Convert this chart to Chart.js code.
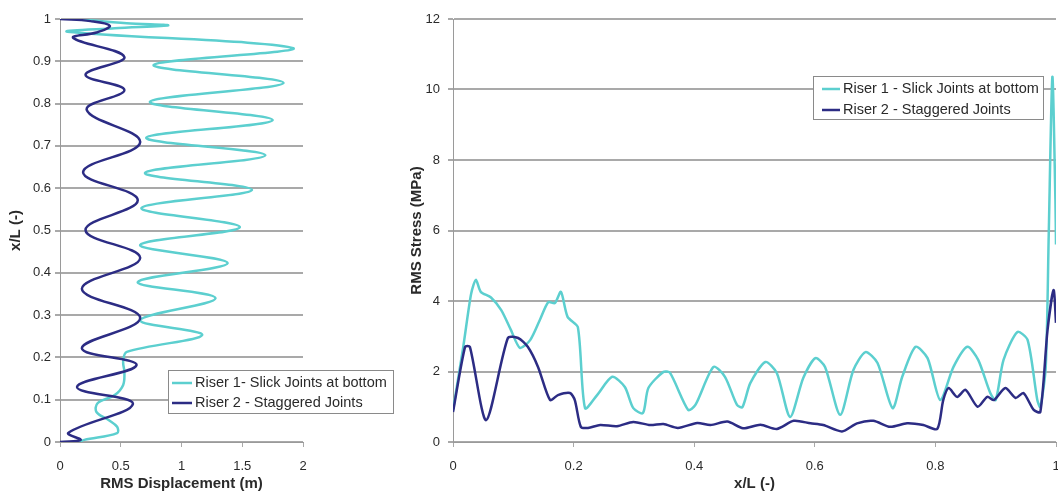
<!DOCTYPE html>
<html>
<head>
<meta charset="utf-8">
<script src="https://cdn.jsdelivr.net/npm/chart.js@4/dist/chart.umd.min.js"></script>
<style>
  body { margin: 0; background: #fff; }
  #wrap { position: relative; width: 1058px; height: 494px; }
  canvas { position: absolute; top: 0; }
  #dispChart { left: 0; }
  #stressChart { left: 400px; }
</style>
</head>
<body>
<div id="wrap">
  <canvas id="dispChart" width="400" height="494"></canvas>
  <canvas id="stressChart" width="658" height="494"></canvas>
</div>
<script>
// ---- left chart: RMS displacement along the riser ----
const dispTicks = [0, 0.5, 1, 1.5, 2];
const posTicks = [0, 0.1, 0.2, 0.3, 0.4, 0.5, 0.6, 0.7, 0.8, 0.9, 1];

const riser1Disp = [0.15, 0.55, 0.89, 0.45, 0.06, 1.92, 0.77, 1.84, 0.74, 1.75, 0.71, 1.69, 0.70, 1.58, 0.67, 1.48,
  0.66, 1.38, 0.64, 1.28, 0.66, 1.17, 0.55, 0.52, 0.53, 0.52, 0.45, 0.31, 0.30, 0.40, 0.47, 0.47, 0.20, 0.16];
const riser1DispPos = [1.0, 0.99, 0.985, 0.978, 0.970, 0.931, 0.891, 0.849, 0.804, 0.761, 0.719, 0.678, 0.636, 0.596, 0.553, 0.508,
  0.466, 0.423, 0.378, 0.340, 0.288, 0.253, 0.213, 0.190, 0.166, 0.135, 0.111, 0.092, 0.071, 0.052, 0.036, 0.021, 0.005, 0.0];

const riser2Disp = [0.00, 0.25, 0.41, 0.30, 0.11, 0.53, 0.21, 0.53, 0.22, 0.66, 0.19, 0.64, 0.21, 0.66, 0.18, 0.66,
  0.18, 0.63, 0.14, 0.60, 0.07, 0.17, 0.00];
const riser2DispPos = [1.0, 0.995, 0.984, 0.968, 0.955, 0.910, 0.868, 0.832, 0.785, 0.709, 0.638, 0.572, 0.501, 0.435, 0.362, 0.293,
  0.222, 0.182, 0.130, 0.090, 0.022, 0.005, 0.0];

// ---- right chart: RMS stress along the riser ----
const ratioTicks = [0, 0.2, 0.4, 0.6, 0.8, 1];
const stressTicks = [0, 2, 4, 6, 8, 10, 12];

const riser1StressPos = [0, 0.017, 0.03, 0.038, 0.046, 0.063, 0.08, 0.096, 0.111, 0.128, 0.144, 0.158, 0.169, 0.179, 0.19, 0.207,
  0.219, 0.239, 0.264, 0.285, 0.299, 0.315, 0.324, 0.349, 0.36, 0.39, 0.402, 0.432, 0.451, 0.471, 0.48, 0.493,
  0.518, 0.537, 0.559, 0.581, 0.601, 0.617, 0.642, 0.664, 0.684, 0.704, 0.729, 0.745, 0.767, 0.787, 0.808,
  0.83, 0.853, 0.871, 0.891, 0.9, 0.913, 0.936, 0.953, 0.969, 0.974, 0.983, 0.988, 0.994, 0.999, 1.0];
const riser1Stress = [0.9, 2.7, 4.2, 4.6, 4.26, 4.1, 3.74, 3.18, 2.67, 2.89, 3.46, 3.97, 3.94, 4.26, 3.55, 3.26,
  0.96, 1.33, 1.85, 1.56, 0.96, 0.82, 1.53, 1.99, 1.96, 0.91, 1.05, 2.13, 1.85, 1.05, 0.99, 1.67,
  2.27, 1.96, 0.71, 1.82, 2.38, 2.13, 0.77, 2.04, 2.55, 2.24, 0.96, 1.85, 2.70, 2.38, 1.19,
  2.13, 2.70, 2.33, 1.39, 1.19, 2.33, 3.12, 2.89, 1.19, 0.99, 2.13, 5.93, 10.36, 6.87, 5.6];

const riser2StressPos = [0, 0.02, 0.028, 0.055, 0.091, 0.108, 0.124, 0.141, 0.161, 0.174, 0.194, 0.202, 0.212, 0.224,
  0.244, 0.272, 0.299, 0.327, 0.349, 0.373, 0.405, 0.427, 0.455, 0.481, 0.51, 0.537, 0.565, 0.593, 0.614, 0.645,
  0.67, 0.697, 0.725, 0.753, 0.78, 0.803, 0.813, 0.822, 0.836, 0.85, 0.87, 0.886, 0.897, 0.916, 0.933, 0.946,
  0.963, 0.974, 0.986, 0.996, 1.0];
const riser2Stress = [0.85, 2.70, 2.70, 0.62, 2.95, 2.95, 2.70, 2.13, 1.19, 1.33, 1.39, 1.19, 0.43, 0.40,
  0.48, 0.45, 0.57, 0.48, 0.51, 0.40, 0.54, 0.48, 0.58, 0.39, 0.49, 0.37, 0.60, 0.53, 0.48, 0.30,
  0.53, 0.60, 0.43, 0.53, 0.48, 0.37, 1.19, 1.53, 1.28, 1.48, 1.0, 1.28, 1.19, 1.53, 1.25, 1.39,
  0.91, 0.85, 3.18, 4.31, 3.38];

const cyan = '#5ccfcf';
const navy = '#2c2c84';
const gridColor = '#a9a9a9';
const axisColor = '#9a9a9a';
const textColor = '#2a2a2a';
const tickFont = { family: 'Liberation Sans', size: 13 };
const titleFont = { family: 'Liberation Sans', size: 15, weight: 'bold' };

function zip(xs, ys) {
  return xs.map((x, i) => ({ x: x, y: ys[i] }));
}

function fixedTicks(list) {
  return function (scale) {
    scale.ticks = list.map(v => ({ value: v }));
  };
}

// plain number labels: 1, 0.9 ... not 1.0
const plainLabel = v => String(v);

// legend with a plain box, placed inside the page like the original
const boxLegend = {
  id: 'boxLegend',
  afterDraw(chart, args, opts) {
    const ctx = chart.ctx;
    ctx.save();
    ctx.fillStyle = '#fff';
    ctx.fillRect(opts.x, opts.y, opts.w, opts.h);
    ctx.strokeStyle = '#8a8a8a';
    ctx.lineWidth = 1;
    ctx.strokeRect(opts.x + 0.5, opts.y + 0.5, opts.w, opts.h);
    ctx.font = '14.5px "Liberation Sans"';
    ctx.textBaseline = 'middle';
    chart.data.datasets.forEach((ds, i) => {
      const cy = opts.y + opts.firstRow + i * opts.rowGap;
      ctx.strokeStyle = ds.borderColor;
      ctx.lineWidth = 2.5;
      ctx.beginPath();
      ctx.moveTo(opts.lineX, cy);
      ctx.lineTo(opts.lineX + opts.lineW, cy);
      ctx.stroke();
      ctx.fillStyle = textColor;
      ctx.fillText(ds.label, opts.textX, cy);
    });
    ctx.restore();
  }
};

function lineSet(label, data, color, order, tension) {
  return {
    label: label,
    data: data,
    showLine: true,
    borderColor: color,
    backgroundColor: color,
    borderWidth: 2.5,
    pointRadius: 0,
    tension: tension,
    order: order
  };
}

// keep the plot area where it is even when the end labels stick out
function noEdgePadding(height) {
  return function (s) {
    s.height = height;
    s.paddingLeft = 0;
    s.paddingRight = 0;
  };
}

new Chart(document.getElementById('dispChart'), {
  type: 'scatter',
  data: {
    datasets: [
      lineSet('Riser 1- Slick Joints at bottom', zip(riser1Disp, riser1DispPos), cyan, 1, 0.35),
      lineSet('Riser 2 - Staggered Joints', zip(riser2Disp, riser2DispPos), navy, 0, 0.4)
    ]
  },
  options: {
    responsive: false,
    animation: false,
    layout: { padding: { top: 19, right: 97, bottom: 0, left: 0 } },
    plugins: {
      legend: { display: false },
      tooltip: { enabled: false },
      boxLegend: { x: 168, y: 370, w: 225, h: 43, firstRow: 13, rowGap: 20, lineX: 172, lineW: 20, textX: 195 }
    },
    scales: {
      x: {
        type: 'linear', min: 0, max: 2,
        afterBuildTicks: fixedTicks(dispTicks),
        afterFit: noEdgePadding(52),
        grid: { drawOnChartArea: false, color: gridColor, lineWidth: 1, tickLength: 5 },
        border: { color: axisColor },
        ticks: { font: tickFont, color: textColor, padding: 12, maxRotation: 0, callback: plainLabel },
        title: { display: true, text: 'RMS Displacement (m)', font: titleFont, color: textColor, padding: { top: 0, bottom: 1 } }
      },
      y: {
        type: 'linear', min: 0, max: 1,
        afterBuildTicks: fixedTicks(posTicks),
        afterFit: s => { s.width = 60; },
        grid: { color: gridColor, lineWidth: 2, tickLength: 5 },
        border: { color: axisColor },
        ticks: { font: tickFont, color: textColor, padding: 4, callback: plainLabel },
        title: { display: true, text: 'x/L (-)', font: titleFont, color: textColor, padding: { top: 7, bottom: 0 } }
      }
    }
  },
  plugins: [boxLegend]
});

new Chart(document.getElementById('stressChart'), {
  type: 'scatter',
  data: {
    datasets: [
      lineSet('Riser 1 - Slick Joints at bottom', zip(riser1StressPos, riser1Stress), cyan, 1, 0.25),
      lineSet('Riser 2 - Staggered Joints', zip(riser2StressPos, riser2Stress), navy, 0, 0.25)
    ]
  },
  options: {
    responsive: false,
    animation: false,
    layout: { padding: { top: 19, right: 2, bottom: 0, left: 0 } },
    plugins: {
      legend: { display: false },
      tooltip: { enabled: false },
      boxLegend: { x: 413, y: 76, w: 230, h: 43, firstRow: 13, rowGap: 21, lineX: 422, lineW: 18, textX: 443 }
    },
    scales: {
      x: {
        type: 'linear', min: 0, max: 1,
        afterBuildTicks: fixedTicks(ratioTicks),
        afterFit: noEdgePadding(52),
        grid: { drawOnChartArea: false, color: gridColor, lineWidth: 1, tickLength: 5 },
        border: { color: axisColor },
        ticks: { font: tickFont, color: textColor, padding: 12, maxRotation: 0, callback: plainLabel },
        title: { display: true, text: 'x/L (-)', font: titleFont, color: textColor, padding: { top: 0, bottom: 1 } }
      },
      y: {
        type: 'linear', min: 0, max: 12,
        afterBuildTicks: fixedTicks(stressTicks),
        afterFit: s => { s.width = 53; },
        grid: { color: gridColor, lineWidth: 2, tickLength: 5 },
        border: { color: axisColor },
        ticks: { font: tickFont, color: textColor, padding: 8, callback: plainLabel },
        title: { display: true, text: 'RMS Stress (MPa)', font: titleFont, color: textColor, padding: { top: 8, bottom: 0 } }
      }
    }
  },
  plugins: [boxLegend]
});
</script>
</body>
</html>
